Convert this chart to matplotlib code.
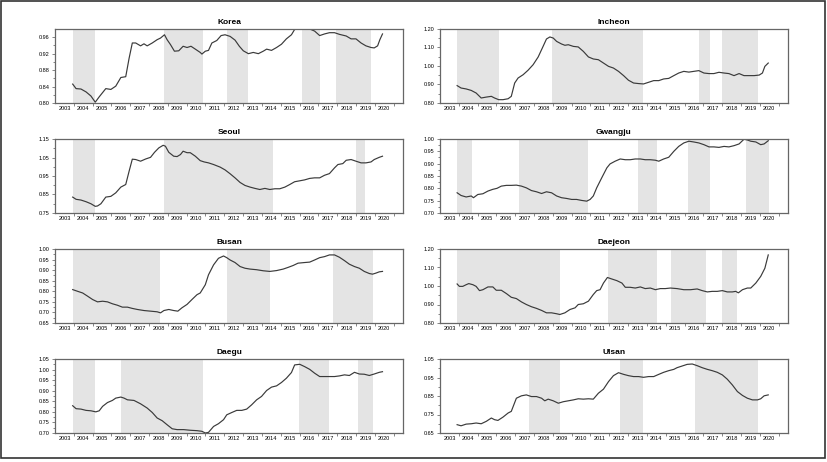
"""Relative house price index by region, 2003-2020, with shaded regimes."""

import matplotlib

matplotlib.use("Agg")
import matplotlib.pyplot as plt
import numpy as np
from matplotlib.patches import Rectangle
from matplotlib.ticker import FixedLocator, FormatStrFormatter

plt.rcParams["font.family"] = ["Liberation Sans", "DejaVu Sans"]

YEAR_LABELS = list(range(2003, 2021))

# --- Korea ---
KOREA_YEARS = [2003.94, 2004.12, 2004.38, 2004.65, 2004.91, 2005.14, 2005.35, 2005.70, 2005.97, 2006.23,
               2006.50, 2006.76, 2006.94, 2007.11, 2007.29, 2007.55, 2007.73, 2007.90, 2008.17, 2008.43,
               2008.61, 2008.82, 2008.96, 2009.14, 2009.35, 2009.58, 2009.81, 2010.02, 2010.23, 2010.46,
               2010.72, 2010.81, 2010.99, 2011.16, 2011.34, 2011.60, 2011.83, 2012.04, 2012.31, 2012.57,
               2012.80, 2013.01, 2013.28, 2013.54, 2013.81, 2014.07, 2014.25, 2014.51, 2014.78, 2015.04,
               2015.30, 2015.57, 2015.74, 2016.01, 2016.27, 2016.54, 2016.80, 2017.07, 2017.33, 2017.59,
               2017.86, 2018.12, 2018.48, 2018.74, 2019.00, 2019.27, 2019.53, 2019.80, 2019.97, 2020.15,
               2020.27, 2020.41]
KOREA_VALUES = [0.846, 0.835, 0.834, 0.827, 0.817, 0.802, 0.815, 0.835, 0.833, 0.841,
                0.862, 0.864, 0.909, 0.946, 0.946, 0.939, 0.944, 0.939, 0.946, 0.954,
                0.958, 0.966, 0.954, 0.942, 0.926, 0.927, 0.938, 0.935, 0.938, 0.931,
                0.923, 0.919, 0.926, 0.928, 0.946, 0.952, 0.964, 0.966, 0.962, 0.953,
                0.938, 0.927, 0.920, 0.923, 0.920, 0.926, 0.931, 0.928, 0.935, 0.943,
                0.956, 0.966, 0.979, 0.980, 0.979, 0.980, 0.975, 0.964, 0.968, 0.971,
                0.971, 0.967, 0.963, 0.956, 0.956, 0.946, 0.939, 0.935, 0.934, 0.939,
                0.954, 0.968]
KOREA_SHADES = [(2003.94, 2005.14), (2008.82, 2010.86), (2012.15, 2013.26),
                (2016.11, 2017.07), (2017.95, 2019.80)]

# --- Incheon ---
INCHEON_YEARS = [2003.91, 2004.12, 2004.39, 2004.66, 2004.92, 2005.19, 2005.46, 2005.73, 2005.90, 2006.12,
                 2006.35, 2006.62, 2006.79, 2006.97, 2007.15, 2007.42, 2007.68, 2007.95, 2008.22, 2008.48,
                 2008.66, 2008.84, 2009.02, 2009.20, 2009.46, 2009.64, 2009.82, 2010.09, 2010.35, 2010.62,
                 2010.89, 2011.15, 2011.42, 2011.69, 2011.96, 2012.22, 2012.49, 2012.76, 2013.02, 2013.29,
                 2013.56, 2013.82, 2014.09, 2014.36, 2014.63, 2014.89, 2015.16, 2015.43, 2015.69, 2015.96,
                 2016.23, 2016.49, 2016.76, 2017.03, 2017.30, 2017.56, 2017.83, 2018.10, 2018.36, 2018.63,
                 2018.90, 2019.16, 2019.43, 2019.70, 2019.97, 2020.14, 2020.27, 2020.45]
INCHEON_VALUES = [0.894, 0.881, 0.876, 0.868, 0.854, 0.827, 0.832, 0.836, 0.827, 0.818,
                  0.818, 0.823, 0.836, 0.908, 0.935, 0.953, 0.977, 1.007, 1.049, 1.106,
                  1.146, 1.157, 1.151, 1.133, 1.119, 1.112, 1.115, 1.106, 1.103, 1.079,
                  1.049, 1.038, 1.034, 1.016, 0.998, 0.989, 0.971, 0.948, 0.923, 0.908,
                  0.905, 0.903, 0.912, 0.921, 0.921, 0.930, 0.933, 0.948, 0.962, 0.971,
                  0.967, 0.971, 0.975, 0.962, 0.959, 0.959, 0.966, 0.962, 0.959, 0.948,
                  0.959, 0.948, 0.948, 0.948, 0.951, 0.962, 0.998, 1.016]
INCHEON_SHADES = [(2003.91, 2006.12), (2008.93, 2013.79), (2016.76, 2017.33), (2018.01, 2019.88)]

# --- Seoul ---
SEOUL_YEARS = [2003.94, 2004.12, 2004.38, 2004.65, 2004.91, 2005.14, 2005.26, 2005.44, 2005.70, 2005.97,
               2006.23, 2006.50, 2006.76, 2006.94, 2007.11, 2007.29, 2007.55, 2007.82, 2008.08, 2008.29,
               2008.52, 2008.75, 2008.87, 2009.05, 2009.31, 2009.49, 2009.67, 2009.81, 2010.02, 2010.19,
               2010.46, 2010.72, 2010.93, 2011.16, 2011.43, 2011.78, 2012.04, 2012.31, 2012.57, 2012.84,
               2013.10, 2013.37, 2013.63, 2013.89, 2014.16, 2014.42, 2014.69, 2014.95, 2015.22, 2015.48,
               2015.74, 2016.01, 2016.27, 2016.54, 2016.80, 2017.07, 2017.33, 2017.59, 2017.86, 2018.04,
               2018.30, 2018.48, 2018.74, 2019.00, 2019.27, 2019.53, 2019.80, 2019.97, 2020.24, 2020.41]
SEOUL_VALUES = [0.836, 0.824, 0.820, 0.811, 0.800, 0.786, 0.788, 0.800, 0.836, 0.840,
                0.859, 0.890, 0.904, 0.976, 1.041, 1.039, 1.030, 1.042, 1.051, 1.078,
                1.102, 1.116, 1.111, 1.078, 1.057, 1.055, 1.066, 1.084, 1.076, 1.076,
                1.057, 1.033, 1.026, 1.021, 1.012, 0.998, 0.983, 0.962, 0.940, 0.915,
                0.899, 0.890, 0.883, 0.877, 0.883, 0.877, 0.881, 0.881, 0.890, 0.904,
                0.919, 0.924, 0.929, 0.937, 0.940, 0.940, 0.954, 0.963, 0.994, 1.012,
                1.017, 1.035, 1.039, 1.030, 1.021, 1.021, 1.026, 1.039, 1.051, 1.057]
SEOUL_SHADES = [(2003.94, 2005.14), (2008.82, 2014.60), (2019.00, 2019.48)]

# --- Gwangju ---
GWANGJU_YEARS = [2003.91, 2004.12, 2004.39, 2004.66, 2004.78, 2005.01, 2005.28, 2005.55, 2005.81, 2006.03,
                 2006.26, 2006.53, 2006.79, 2007.06, 2007.33, 2007.59, 2007.86, 2008.13, 2008.40, 2008.66,
                 2008.93, 2009.20, 2009.46, 2009.73, 2010.00, 2010.26, 2010.53, 2010.80, 2010.98, 2011.15,
                 2011.33, 2011.60, 2011.87, 2012.04, 2012.31, 2012.58, 2012.85, 2013.11, 2013.38, 2013.65,
                 2013.91, 2014.18, 2014.45, 2014.63, 2014.89, 2015.16, 2015.43, 2015.69, 2015.96, 2016.23,
                 2016.49, 2016.76, 2017.03, 2017.30, 2017.56, 2017.83, 2018.10, 2018.36, 2018.63, 2018.90,
                 2019.16, 2019.34, 2019.52, 2019.79, 2020.05, 2020.23, 2020.45]
GWANGJU_VALUES = [0.782, 0.771, 0.765, 0.769, 0.762, 0.775, 0.778, 0.789, 0.796, 0.800,
                  0.809, 0.812, 0.812, 0.813, 0.809, 0.802, 0.791, 0.786, 0.779, 0.786,
                  0.782, 0.769, 0.762, 0.759, 0.755, 0.755, 0.751, 0.748, 0.755, 0.769,
                  0.802, 0.843, 0.883, 0.899, 0.910, 0.919, 0.916, 0.916, 0.919, 0.919,
                  0.916, 0.916, 0.914, 0.910, 0.919, 0.926, 0.950, 0.970, 0.984, 0.991,
                  0.988, 0.984, 0.977, 0.968, 0.968, 0.966, 0.970, 0.968, 0.973, 0.980,
                  0.999, 0.996, 0.991, 0.988, 0.977, 0.980, 0.993]
GWANGJU_SHADES = [(2003.91, 2004.69), (2007.20, 2010.85), (2013.52, 2014.54),
                  (2016.17, 2017.33), (2019.29, 2020.50)]

# --- Busan ---
BUSAN_YEARS = [2003.94, 2004.20, 2004.47, 2004.73, 2005.00, 2005.26, 2005.53, 2005.79, 2006.05, 2006.32,
               2006.58, 2006.85, 2007.11, 2007.38, 2007.73, 2008.08, 2008.43, 2008.61, 2008.79, 2009.05,
               2009.31, 2009.53, 2009.75, 2010.02, 2010.28, 2010.55, 2010.72, 2010.99, 2011.16, 2011.43,
               2011.69, 2011.96, 2012.13, 2012.31, 2012.57, 2012.84, 2013.10, 2013.37, 2013.72, 2014.07,
               2014.42, 2014.78, 2015.13, 2015.39, 2015.66, 2015.92, 2016.27, 2016.54, 2016.80, 2017.07,
               2017.33, 2017.59, 2017.86, 2018.12, 2018.39, 2018.65, 2018.92, 2019.18, 2019.44, 2019.71,
               2019.88, 2020.06, 2020.24, 2020.41]
BUSAN_VALUES = [0.808, 0.800, 0.792, 0.777, 0.761, 0.750, 0.753, 0.750, 0.741, 0.734,
                0.725, 0.725, 0.719, 0.714, 0.709, 0.706, 0.703, 0.698, 0.709, 0.714,
                0.709, 0.706, 0.722, 0.738, 0.761, 0.784, 0.792, 0.831, 0.878, 0.925,
                0.956, 0.967, 0.959, 0.948, 0.936, 0.917, 0.909, 0.905, 0.902, 0.897,
                0.894, 0.898, 0.905, 0.913, 0.922, 0.933, 0.936, 0.938, 0.948, 0.959,
                0.964, 0.972, 0.972, 0.961, 0.945, 0.928, 0.917, 0.909, 0.894, 0.884,
                0.881, 0.886, 0.892, 0.894]
BUSAN_SHADES = [(2003.94, 2008.56), (2012.15, 2014.42), (2017.77, 2019.88)]

# --- Daejeon ---
DAEJEON_YEARS = [2003.91, 2004.03, 2004.21, 2004.39, 2004.53, 2004.75, 2004.92, 2005.10, 2005.28, 2005.55,
                 2005.81, 2005.99, 2006.26, 2006.53, 2006.79, 2007.06, 2007.33, 2007.59, 2007.86, 2008.13,
                 2008.40, 2008.66, 2008.93, 2009.20, 2009.37, 2009.64, 2009.91, 2010.18, 2010.35, 2010.62,
                 2010.89, 2011.15, 2011.33, 2011.51, 2011.69, 2011.90, 2012.13, 2012.40, 2012.67, 2012.85,
                 2013.11, 2013.38, 2013.65, 2013.91, 2014.18, 2014.45, 2014.71, 2014.98, 2015.25, 2015.60,
                 2015.96, 2016.32, 2016.67, 2016.94, 2017.21, 2017.47, 2017.74, 2018.01, 2018.27, 2018.54,
                 2018.72, 2018.86, 2019.08, 2019.34, 2019.52, 2019.79, 2020.05, 2020.27, 2020.45]
DAEJEON_VALUES = [1.011, 0.998, 0.998, 1.007, 1.013, 1.007, 0.998, 0.975, 0.980, 0.995,
                  0.995, 0.977, 0.977, 0.959, 0.939, 0.932, 0.914, 0.900, 0.888, 0.879,
                  0.868, 0.855, 0.855, 0.850, 0.846, 0.855, 0.873, 0.882, 0.900, 0.904,
                  0.918, 0.954, 0.975, 0.980, 1.016, 1.046, 1.038, 1.029, 1.016, 0.993,
                  0.993, 0.989, 0.995, 0.986, 0.989, 0.980, 0.986, 0.986, 0.989, 0.986,
                  0.980, 0.980, 0.984, 0.975, 0.968, 0.971, 0.971, 0.975, 0.968, 0.968,
                  0.971, 0.963, 0.980, 0.989, 0.989, 1.016, 1.052, 1.096, 1.168]
DAEJEON_SHADES = [(2003.91, 2009.37), (2011.95, 2014.54), (2015.28, 2017.15), (2018.01, 2018.81)]

# --- Daegu ---
DAEGU_YEARS = [2003.94, 2004.12, 2004.38, 2004.65, 2004.91, 2005.17, 2005.35, 2005.53, 2005.79, 2006.05,
               2006.23, 2006.50, 2006.67, 2006.85, 2007.20, 2007.55, 2007.90, 2008.17, 2008.43, 2008.70,
               2008.96, 2009.23, 2009.49, 2009.84, 2010.19, 2010.55, 2010.81, 2010.99, 2011.16, 2011.43,
               2011.69, 2011.96, 2012.13, 2012.40, 2012.66, 2012.93, 2013.19, 2013.45, 2013.72, 2013.98,
               2014.25, 2014.51, 2014.78, 2015.04, 2015.30, 2015.57, 2015.74, 2016.01, 2016.27, 2016.54,
               2016.80, 2017.07, 2017.33, 2017.59, 2017.86, 2018.12, 2018.39, 2018.65, 2018.92, 2019.18,
               2019.44, 2019.71, 2019.97, 2020.24, 2020.41]
DAEGU_VALUES = [0.829, 0.815, 0.813, 0.807, 0.805, 0.800, 0.805, 0.826, 0.844, 0.854,
                0.865, 0.870, 0.865, 0.857, 0.854, 0.838, 0.818, 0.797, 0.771, 0.758,
                0.739, 0.720, 0.716, 0.716, 0.713, 0.711, 0.708, 0.700, 0.703, 0.731,
                0.744, 0.763, 0.786, 0.797, 0.807, 0.807, 0.813, 0.833, 0.857, 0.873,
                0.901, 0.917, 0.923, 0.939, 0.959, 0.986, 1.022, 1.025, 1.014, 1.001,
                0.983, 0.967, 0.967, 0.967, 0.967, 0.970, 0.975, 0.972, 0.987, 0.979,
                0.978, 0.972, 0.979, 0.987, 0.990]
DAEGU_SHADES = [(2003.94, 2005.14), (2006.53, 2010.86), (2015.96, 2017.54), (2019.09, 2019.88)]

# --- Ulsan ---
ULSAN_YEARS = [2003.91, 2004.12, 2004.39, 2004.66, 2004.92, 2005.19, 2005.46, 2005.73, 2005.90, 2006.08,
               2006.35, 2006.62, 2006.79, 2007.06, 2007.33, 2007.59, 2007.86, 2008.13, 2008.40, 2008.57,
               2008.75, 2009.02, 2009.29, 2009.55, 2009.82, 2010.09, 2010.35, 2010.62, 2010.89, 2011.15,
               2011.42, 2011.69, 2011.96, 2012.22, 2012.49, 2012.76, 2013.02, 2013.29, 2013.56, 2013.82,
               2014.09, 2014.36, 2014.63, 2014.89, 2015.16, 2015.43, 2015.60, 2015.87, 2016.14, 2016.41,
               2016.67, 2016.94, 2017.21, 2017.47, 2017.74, 2018.01, 2018.27, 2018.54, 2018.81, 2019.08,
               2019.34, 2019.61, 2019.88, 2020.05, 2020.23, 2020.45]
ULSAN_VALUES = [0.695, 0.689, 0.698, 0.700, 0.704, 0.700, 0.713, 0.731, 0.722, 0.718,
                0.736, 0.758, 0.767, 0.838, 0.851, 0.856, 0.847, 0.847, 0.838, 0.824,
                0.833, 0.824, 0.811, 0.819, 0.824, 0.829, 0.835, 0.833, 0.835, 0.833,
                0.865, 0.887, 0.928, 0.960, 0.976, 0.967, 0.960, 0.955, 0.955, 0.951,
                0.955, 0.955, 0.967, 0.978, 0.987, 0.994, 1.003, 1.012, 1.021, 1.023,
                1.014, 1.003, 0.994, 0.987, 0.978, 0.964, 0.941, 0.910, 0.874, 0.853,
                0.838, 0.829, 0.829, 0.835, 0.851, 0.856]
ULSAN_SHADES = [(2007.74, 2009.37), (2012.58, 2013.79), (2016.53, 2019.88)]

# title, years, values, shaded spans, (ymin, ymax), major step
PANELS = [
    ("Korea", KOREA_YEARS, KOREA_VALUES, KOREA_SHADES, (0.80, 0.98), 0.04),
    ("Incheon", INCHEON_YEARS, INCHEON_VALUES, INCHEON_SHADES, (0.80, 1.20), 0.10),
    ("Seoul", SEOUL_YEARS, SEOUL_VALUES, SEOUL_SHADES, (0.75, 1.15), 0.10),
    ("Gwangju", GWANGJU_YEARS, GWANGJU_VALUES, GWANGJU_SHADES, (0.70, 1.00), 0.05),
    ("Busan", BUSAN_YEARS, BUSAN_VALUES, BUSAN_SHADES, (0.65, 1.00), 0.05),
    ("Daejeon", DAEJEON_YEARS, DAEJEON_VALUES, DAEJEON_SHADES, (0.80, 1.20), 0.10),
    ("Daegu", DAEGU_YEARS, DAEGU_VALUES, DAEGU_SHADES, (0.70, 1.05), 0.05),
    ("Ulsan", ULSAN_YEARS, ULSAN_VALUES, ULSAN_SHADES, (0.65, 1.05), 0.10),
]

W, H = 827, 462
COL_X = [55, 440]              # axes left edge, px
AX_W = 348
ROW_TOP = [29, 139, 249, 359]  # axes top edge, px
AX_H = 74


def draw_panel(ax, title, years, values, shades, ylim, step):
    for x0, x1 in shades:
        ax.axvspan(x0, x1, color="#e4e4e4", lw=0, zorder=0)
    ax.plot(years, values, color="#3a3a3a", lw=0.85, zorder=2)

    ax.set_xlim(2003.0, 2021.5)
    ax.set_ylim(*ylim)
    ax.set_title(title, fontsize=6, fontweight="bold", pad=3.5)

    # year boundaries get ticks, labels sit mid-year
    ax.xaxis.set_major_locator(FixedLocator([y + 1 for y in YEAR_LABELS]))
    ax.xaxis.set_minor_locator(FixedLocator([y + 0.5 for y in YEAR_LABELS]))
    ax.set_xticklabels([])
    ax.set_xticklabels([str(y) for y in YEAR_LABELS], minor=True)
    ax.tick_params(axis="x", which="major", length=2, width=0.5, direction="out", color="#555555")
    ax.tick_params(axis="x", which="minor", length=0, labelsize=4, pad=2.5)

    # ticks start at the axis minimum (0.75, 0.85, ... for Seoul)
    major = np.arange(ylim[0], ylim[1] + 1e-9, step)
    ax.yaxis.set_major_locator(FixedLocator(major))
    ax.yaxis.set_minor_locator(FixedLocator(major[:-1] + step / 2))
    ax.yaxis.set_major_formatter(FormatStrFormatter("%.2f"))
    ax.tick_params(axis="y", which="major", length=2.5, width=0.5, labelsize=4, pad=1.5, color="#555555")
    ax.tick_params(axis="y", which="minor", length=1.5, width=0.5, color="#555555")

    for s in ax.spines.values():
        s.set_color("#666666")
        s.set_linewidth(0.9)


def main():
    fig = plt.figure(figsize=(W / 100, H / 100), dpi=100)
    fig.patches.append(Rectangle((0.6 / W, 1 - 458 / H), 824.5 / W, 457 / H,
                                 transform=fig.transFigure, fill=False,
                                 edgecolor="#333333", lw=1.2))

    for i, (title, years, values, shades, ylim, step) in enumerate(PANELS):
        row, col = divmod(i, 2)
        left = COL_X[col] / W
        bottom = (H - ROW_TOP[row] - AX_H) / H
        ax = fig.add_axes([left, bottom, AX_W / W, AX_H / H])
        draw_panel(ax, title, years, values, shades, ylim, step)

    fig.savefig("out.png", dpi=100)


if __name__ == "__main__":
    main()
